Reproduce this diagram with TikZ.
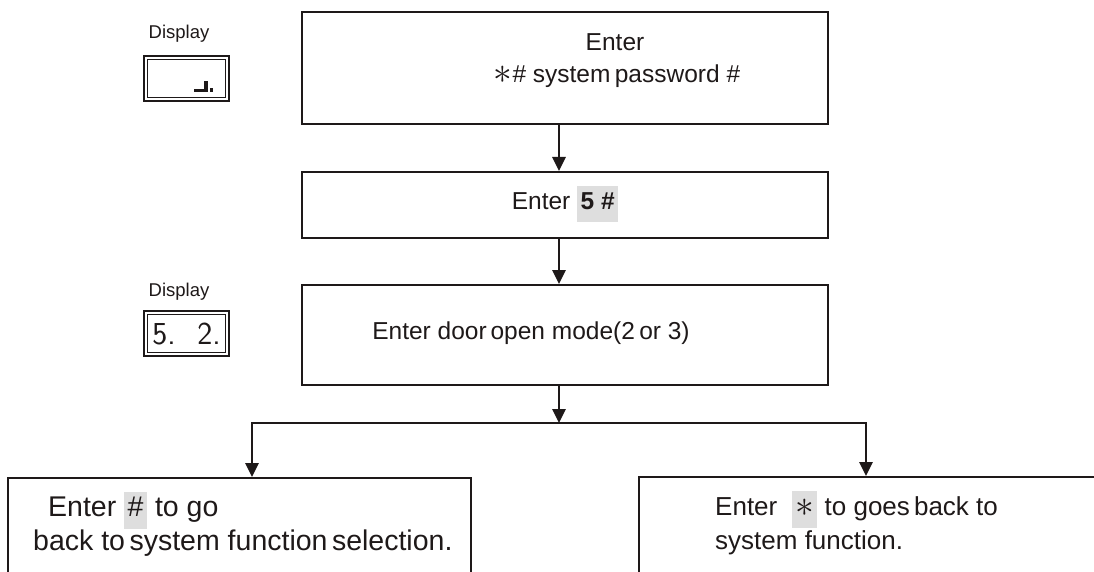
\documentclass[tikz,border=0pt]{standalone}
\usepackage{fontspec}
\setmainfont{Liberation Sans}
\usetikzlibrary{arrows.meta}
\definecolor{hlgray}{gray}{0.87}
\definecolor{ink}{RGB}{30,25,25}
\newcommand\hlbox[1]{{\setlength{\fboxsep}{3.5pt}\colorbox{hlgray}{\strut #1}}}
\newcommand\bigast{\raisebox{-0.05em}{\scalebox{1.5}{$\ast$}}}
\begin{document}
\begin{tikzpicture}[x=1pt,y=-1pt,
  box/.style={draw=ink, line width=1.8pt, inner sep=0pt, anchor=north west},
  arr/.style={draw=ink, line width=2.8pt, line join=miter, -{Triangle[length=14pt,width=13pt]}},
  txt/.style={text=ink, font=\fontsize{24.5}{29}\selectfont, inner sep=0pt},
  btxt/.style={text=ink, font=\fontsize{28.5}{30}\selectfont, inner sep=0pt, anchor=west},
  rtxt/.style={text=ink, font=\fontsize{26}{30}\selectfont, inner sep=0pt, anchor=west},
  dlabel/.style={text=ink, font=\fontsize{18.5}{20}\selectfont, inner sep=0pt},
  dbox/.style={draw=ink, line width=1.8pt, inner sep=0pt, anchor=north west, minimum width=85pt, minimum height=45pt}
]
\useasboundingbox (0,0) rectangle (1094,572);
\clip (0,0) rectangle (1094,572);

% main boxes
\node[box, minimum width=526pt, minimum height=112pt] (b1) at (301,11) {};
\node[box, minimum width=526pt, minimum height=66pt] (b2) at (301,171) {};
\node[box, minimum width=526pt, minimum height=100pt] (b3) at (301,284) {};
\node[box, minimum width=463pt, minimum height=140pt] (lb) at (7,477) {};
\node[box, minimum width=500pt, minimum height=140pt] (rb) at (638,476) {};

% texts
\node[txt] (t1a) at (615,42) {Enter};
\node[txt] (t1b) at (617,76) {\bigast\# system\hspace{-0.1em} password \#};
\node[txt] (t2) at (565,204) {Enter \hlbox{\textbf{5 \#}}};
\node[txt] (t3) at (531,333) {Enter door\hspace{-0.12em} open mode(2\hspace{-0.1em} or 3)};
\node[btxt] (t4a) at (48,510) {Enter \hlbox{\#} to go};
\node[btxt] (t4b) at (33,543) {back to\hspace{-0.12em} system function\hspace{-0.12em} selection.};
\node[rtxt] (t5a) at (715,509) {Enter \ \hlbox{\bigast} to goes\hspace{-0.12em} back to};
\node[rtxt] (t5b) at (715,543) {system function.};

% displays
\node[dlabel] (dl1) at (179,34) {Display};
\node[dbox] (d1) at (143,55) {};
\draw[ink, line width=0.8pt] ([shift={(4,4)}]d1.north west) rectangle ([shift={(-4,-4)}]d1.south east);
\draw[ink, line width=3.4pt] (194,90.5) -- (206,90.5) -- (206,81);
\fill[ink] (209.5,88.5) rectangle (213,92);

\node[dlabel] (dl2) at (179,292) {Display};
\node[dbox] (d2) at (143,310) {};
\draw[ink, line width=0.8pt] ([shift={(4,4)}]d2.north west) rectangle ([shift={(-4,-4)}]d2.south east);
\node[text=ink, font=\sffamily\fontsize{32}{32}\selectfont, inner sep=0pt] (d2a) at (164,334) {5.};
\node[text=ink, font=\sffamily\fontsize{32}{32}\selectfont, inner sep=0pt] (d2b) at (209,334) {2.};

% connectors
\coordinate (ax) at (559,0);
\coordinate (sp) at (559,423);
\coordinate (sl) at (252,423);
\coordinate (sr) at (866,423);
\draw[arr] (b1.south -| ax) -- (b2.north -| ax);
\draw[arr] (b2.south -| ax) -- (b3.north -| ax);
\draw[arr] (b3.south -| ax) -- (sp);
\draw[arr] (sp) -| (lb.north -| sl);
\draw[arr] (sp) -| (rb.north -| sr);
\end{tikzpicture}
\end{document}
